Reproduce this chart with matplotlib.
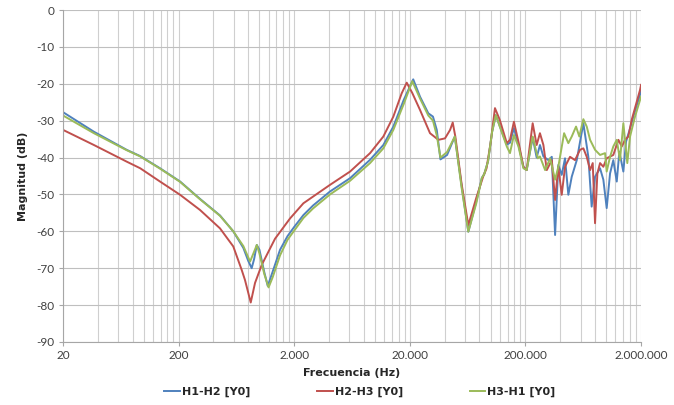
import matplotlib
matplotlib.use('Agg')
import matplotlib.pyplot as plt
from matplotlib.ticker import FixedLocator, FuncFormatter, NullFormatter

plt.rcParams['font.family'] = ['Lato', 'DejaVu Sans']
plt.rcParams['axes.unicode_minus'] = False
tick_family = ['Lato', 'DejaVu Sans']
bold_family = ['DejaVu Sans']

# H1-H2 [Y0]
f_h1h2 = [20, 37, 71, 93, 138, 206, 306, 456, 594, 726, 800, 857, 900, 949, 1000, 1100, 1180, 1300, 1508,
          1750, 2000, 2400, 2910, 4080, 6080, 9060, 11800, 14400, 17700, 21400, 24500, 28900, 31700, 34200,
          36800, 42000, 49000, 56000, 64100, 75000, 84000, 88000, 95000, 103000, 111000, 120000, 138000,
          147000, 159000, 174000, 192000, 205000, 231000, 250000, 267000, 286000, 316000, 338000, 361000,
          385000, 412000, 440000, 470000, 503000, 556000, 634000, 700000, 748000, 800000, 884000, 944000,
          1009000, 1079000, 1151000, 1233000, 1298000, 1406000, 1483000, 1607000, 1715000, 1959000, 2000000]
m_h1h2 = [-27.7, -33.0, -37.9, -39.6, -42.9, -46.5, -51.2, -55.7, -60.0, -64.5, -68.0, -70.0, -67.5, -63.7,
          -65.0, -71.0, -74.8, -71.0, -65.0, -61.3, -58.8, -55.6, -53.0, -49.2, -45.6, -40.6, -36.6, -31.6,
          -24.4, -18.8, -23.5, -28.0, -28.9, -32.5, -40.5, -39.3, -34.3, -47.5, -60.1, -52.0, -45.5, -44.5,
          -41.0, -33.0, -28.5, -31.5, -36.5, -36.0, -32.0, -36.5, -42.5, -43.4, -34.5, -40.0, -36.6, -39.7,
          -40.7, -39.8, -61.0, -42.0, -44.7, -40.2, -50.1, -45.2, -40.7, -30.7, -39.8, -53.3, -45.2, -42.9,
          -46.0, -53.7, -44.3, -40.7, -46.5, -38.4, -43.8, -35.7, -32.1, -28.9, -23.0, -21.5]

# H2-H3 [Y0]
f_h2h3 = [20, 37, 71, 93, 138, 206, 306, 456, 594, 703, 750, 841, 916, 1047, 1365, 1841, 2400, 4080, 6080,
          9060, 11800, 14400, 17000, 18800, 21000, 24500, 29900, 35300, 40300, 44600, 47000, 49500, 56000,
          64100, 75000, 86500, 92000, 100000, 109000, 120000, 138000, 147000, 159000, 174000, 192000, 205000,
          231000, 250000, 267000, 286000, 306000, 338000, 361000, 385000, 412000, 440000, 486000, 537000,
          593000, 634000, 678000, 725000, 764000, 800000, 838000, 884000, 944000, 1009000, 1151000, 1274000,
          1362000, 1456000, 1553000, 1660000, 1959000, 2000000]
m_h2h3 = [-32.5, -36.6, -41.1, -42.9, -46.5, -50.1, -54.2, -59.2, -64.1, -70.5, -73.2, -79.3, -74.0, -69.1,
          -62.0, -56.5, -52.4, -47.4, -43.8, -38.8, -34.3, -28.9, -22.6, -19.7, -22.5, -27.1, -33.4, -35.2,
          -34.8, -32.5, -30.5, -34.3, -47.0, -58.3, -51.0, -45.0, -43.0, -36.0, -26.6, -29.8, -36.1, -35.2,
          -30.3, -35.7, -42.5, -43.4, -30.7, -36.6, -33.4, -36.6, -43.4, -40.7, -51.5, -42.5, -50.1, -42.5,
          -39.8, -40.7, -37.9, -37.5, -39.8, -43.4, -41.5, -57.8, -44.3, -41.5, -42.5, -40.2, -39.3, -35.2,
          -37.0, -35.2, -34.3, -29.8, -21.7, -20.3]

# H3-H1 [Y0]
f_h3h1 = [20, 37, 71, 93, 138, 206, 306, 456, 594, 726, 830, 900, 949, 1000, 1100, 1200, 1300, 1508, 1750,
          2000, 2400, 2910, 4080, 6080, 9060, 11800, 14400, 17700, 21000, 24500, 28900, 31700, 34200, 36800,
          42000, 49000, 56000, 64100, 75000, 84000, 88000, 95000, 103000, 111000, 120000, 138000, 147000,
          159000, 174000, 192000, 205000, 231000, 256000, 267000, 296000, 327000, 361000, 385000, 432000,
          470000, 503000, 548000, 585000, 634000, 678000, 725000, 800000, 884000, 977000, 1009000, 1079000,
          1151000, 1233000, 1315000, 1406000, 1521000, 1607000, 1774000, 2000000]
m_h3h1 = [-28.6, -33.4, -38.0, -39.7, -43.0, -46.6, -51.3, -55.8, -60.0, -64.0, -68.2, -65.5, -63.7, -66.0,
          -71.5, -75.2, -72.5, -66.5, -62.3, -59.8, -56.4, -53.8, -50.0, -46.3, -41.5, -37.5, -32.5, -25.5,
          -19.3, -24.0, -28.6, -30.0, -34.0, -40.0, -38.5, -34.3, -48.0, -60.1, -52.5, -45.5, -44.5, -41.0,
          -33.0, -28.5, -31.6, -37.0, -38.8, -33.9, -37.0, -42.9, -43.4, -34.3, -40.2, -39.7, -43.4, -40.2,
          -46.0, -42.5, -33.4, -36.1, -34.3, -31.6, -34.3, -29.6, -31.6, -35.2, -37.9, -39.3, -38.8, -43.8,
          -39.8, -37.0, -35.2, -40.7, -30.7, -41.5, -34.3, -28.9, -23.5]

series = [
    ('H1-H2 [Y0]', f_h1h2, m_h1h2, '#4F81BD'),
    ('H2-H3 [Y0]', f_h2h3, m_h2h3, '#C0504D'),
    ('H3-H1 [Y0]', f_h3h1, m_h3h1, '#9BBB59'),
]

major_ticks = [20, 200, 2000, 20000, 200000, 2000000]
y_ticks = list(range(-90, 1, 10))

fig = plt.figure(figsize=(6.74, 4.05), dpi=100)
ax = fig.add_axes([0.0935, 0.1556, 0.8576, 0.8197])

for name, f, m, c in series:
    ax.plot(f, m, color=c, lw=1.4, label=name, solid_joinstyle='round')

ax.set_xscale('log')
ax.set_xlim(20, 2000000)
ax.set_ylim(-90, 0)

minor = [t * k for t in major_ticks[:-1] for k in range(2, 10)]
ax.xaxis.set_major_locator(FixedLocator(major_ticks))
ax.xaxis.set_minor_locator(FixedLocator(minor))
ax.xaxis.set_major_formatter(FuncFormatter(lambda v, p: f"{int(round(v)):,}".replace(',', '.')))
ax.xaxis.set_minor_formatter(NullFormatter())
ax.set_yticks(y_ticks)

ax.grid(True, which='both', axis='x', color='#cfcfcf', lw=0.8)
ax.grid(True, which='major', axis='y', color='#bfbfbf', lw=0.8)
ax.set_axisbelow(True)

for s in ['top', 'right']:
    ax.spines[s].set_visible(False)
for s in ['left', 'bottom']:
    ax.spines[s].set_color('#a6a6a6')
    ax.spines[s].set_linewidth(0.8)

ax.tick_params(axis='both', which='major', length=3, color='#a6a6a6', labelsize=8.5, labelcolor='#404040', pad=3)
ax.tick_params(axis='x', which='minor', length=0)
for lbl in ax.get_xticklabels() + ax.get_yticklabels():
    lbl.set_fontfamily(tick_family)

ax.set_xlabel('Frecuencia (Hz)', fontsize=8, fontweight='bold', family=bold_family, color='#262626', labelpad=5)
ax.set_ylabel('Magnitud (dB)', fontsize=8, fontweight='bold', family=bold_family, color='#262626', labelpad=6)

fig.legend(loc='center', bbox_to_anchor=(0.534, 0.032), ncol=3, frameon=False,
           prop={'size': 8, 'weight': 'bold', 'family': bold_family}, handlelength=1.4, handletextpad=0.2,
           columnspacing=6.0, labelcolor='#262626')

plt.savefig('out.png', dpi=100)
